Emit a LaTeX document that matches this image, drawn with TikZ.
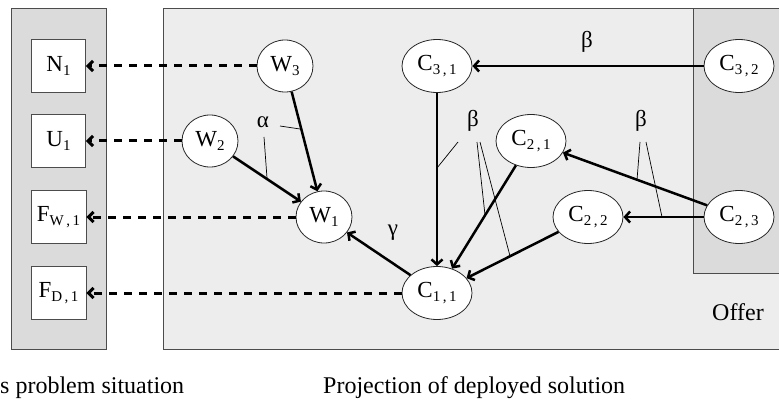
\documentclass[tikz,border=0pt]{standalone}
\usepackage{fontspec}
\setmainfont{Liberation Serif}
\usetikzlibrary{shapes.geometric,arrows.meta}
\newcommand\sbx[1]{\raisebox{-0.35ex}{\fontsize{15}{15}\selectfont #1}}
\begin{document}
\begin{tikzpicture}[x=1pt,y=-1pt,
  panel/.style={draw=black!70,line width=0.9pt},
  bx/.style={draw=black!70,line width=0.9pt,fill=white,minimum width=54pt,minimum height=53pt,inner sep=0pt,font=\fontsize{23}{27}\selectfont},
  cel/.style={ellipse,draw=black!85,line width=0.8pt,fill=white,minimum width=70pt,minimum height=53pt,inner sep=0pt,font=\fontsize{23}{27}\selectfont},
  wel/.style={cel,minimum width=56pt,minimum height=52pt},
  arr/.style={line width=2.5pt,-{Straight Barb[length=5pt,width=11pt]}},
  dsh/.style={line width=3pt,dash pattern=on 8pt off 7pt,-{Straight Barb[length=5pt,width=10pt]}},
  ann/.style={line width=0.7pt},
  lbl/.style={inner sep=0pt,font=\fontsize{23}{27}\selectfont},
  txt/.style={inner sep=0pt,anchor=base west,font=\fontsize{24}{28}\selectfont}]
\useasboundingbox (0,0) rectangle (779,401);
% panels
\fill[white] (0,0) rectangle (779,401);
\draw[panel,fill=black!14] (11,8) rectangle (106,349);
\draw[panel,fill=black!7] (163,8) -- (785,8) -- (785,349) -- (163,349) -- cycle;
\draw[panel,fill=black!14] (693,8) -- (785,8) -- (785,273) -- (693,273) -- cycle;
% boxes
\node[bx] (n1) at (58.5,66) {N\sbx{1}};
\node[bx] (u1) at (58.5,141) {U\sbx{1}};
\node[bx,minimum width=55pt] (fw) at (58.5,217) {F\sbx{W\,,\,1}};
\node[bx,minimum width=55pt] (fd) at (58.5,293) {F\sbx{D\,,\,1}};
% ellipses
\node[wel] (w3) at (285,66) {W\sbx{3}};
\node[wel] (w2) at (210,141) {W\sbx{2}};
\node[wel] (w1) at (324,217) {W\sbx{1}};
\node[cel] (c11) at (437,293) {C\sbx{1\,,\,1}};
\node[cel] (c31) at (437,66) {C\sbx{3\,,\,1}};
\node[cel] (c32) at (739,66) {C\sbx{3\,,\,2}};
\node[cel] (c21) at (531,141) {C\sbx{2\,,\,1}};
\node[cel] (c22) at (588,217) {C\sbx{2\,,\,2}};
\node[cel] (c23) at (739,217) {C\sbx{2\,,\,3}};
% dashed
\draw[dsh] (w3) -- (n1);
\draw[dsh] (w2) -- (u1);
\draw[dsh] (w1) -- (fw);
\draw[dsh] (c11) -- (fd);
% arrows
\draw[arr] (w3) -- (w1);
\draw[arr] (w2) -- (w1);
\draw[arr] (c11) -- (w1);
\draw[arr] (c31) -- (c11);
\draw[arr] (c21) -- (c11);
\draw[arr] (c22) -- (c11);
\draw[arr] (c32) -- (c31);
\draw[arr] (c23) -- (c21);
\draw[arr] (c23) -- (c22);
% labels
\node[lbl] (alpha) at (263,122) {α};
\node[lbl] (bt) at (587,42) {β};
\node[lbl] (bm) at (473,121) {β};
\node[lbl] (br) at (641,121) {β};
\node[lbl] (gm) at (393,233) {γ};
\node[txt,anchor=base] (offer) at (738,320) {Offer};
% annotation lines
\draw[ann] (280,126) -- (300,129);
\draw[ann] (264,137) -- (267,178);
\draw[ann] (458,142) -- (437,168);
\draw[ann] (477,142) -- (485,215);
\draw[ann] (480,142) -- (510,256);
\draw[ann] (640,142) -- (637,180);
\draw[ann] (646,142) -- (662,217);
% bottom texts
\node[txt] (t1) at (0,393) {s problem situation};
\node[txt] (t2) at (323,393) {Projection of deployed solution};
\end{tikzpicture}
\end{document}
